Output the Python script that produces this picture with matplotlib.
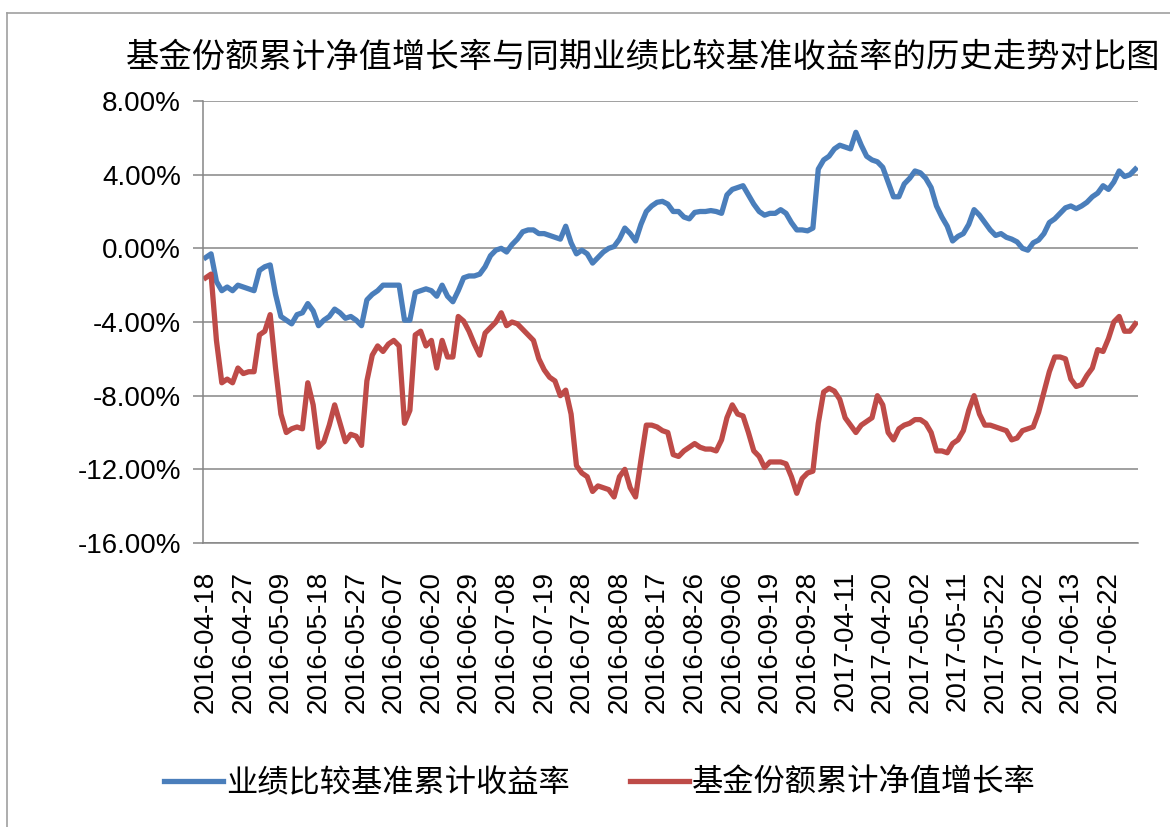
import matplotlib
matplotlib.use('Agg')
import matplotlib.pyplot as plt
from matplotlib.lines import Line2D
from matplotlib.ticker import FuncFormatter

plt.rcParams['font.family'] = ['Liberation Sans', 'Noto Sans CJK SC', 'DejaVu Sans']

title = "基金份额累计净值增长率与同期业绩比较基准收益率的历史走势对比图"
series_names = ["业绩比较基准累计收益率", "基金份额累计净值增长率"]

# one label every 7 trading days
tick_labels = ["2016-04-18", "2016-04-27", "2016-05-09", "2016-05-18", "2016-05-27",
               "2016-06-07", "2016-06-20", "2016-06-29", "2016-07-08", "2016-07-19",
               "2016-07-28", "2016-08-08", "2016-08-17", "2016-08-26", "2016-09-06",
               "2016-09-19", "2016-09-28", "2017-04-11", "2017-04-20", "2017-05-02",
               "2017-05-11", "2017-05-22", "2017-06-02", "2017-06-13", "2017-06-22"]
tick_step = 7

# benchmark cumulative return (%)
benchmark = [-0.5, -0.3, -1.8, -2.3, -2.1, -2.3, -2.0, -2.1, -2.2, -2.3,
             -1.2, -1.0, -0.9, -2.5, -3.7, -3.9, -4.1, -3.6, -3.5, -3.0,
             -3.4, -4.2, -3.9, -3.7, -3.3, -3.5, -3.8, -3.7, -3.9, -4.2,
             -2.8, -2.5, -2.3, -2.0, -2.0, -2.0, -2.0, -3.9, -3.9, -2.4,
             -2.3, -2.2, -2.3, -2.6, -2.0, -2.6, -2.9, -2.3, -1.6, -1.5,
             -1.5, -1.4, -1.0, -0.4, -0.1, 0.0, -0.2, 0.2, 0.5, 0.9,
             1.0, 1.0, 0.8, 0.8, 0.7, 0.6, 0.5, 1.2, 0.3, -0.3,
             -0.1, -0.3, -0.8, -0.5, -0.2, 0.0, 0.1, 0.5, 1.1, 0.8,
             0.4, 1.3, 2.0, 2.3, 2.5, 2.55, 2.4, 2.0, 2.0, 1.7,
             1.6, 1.95, 2.0, 2.0, 2.05, 2.0, 1.9, 2.9, 3.2, 3.3,
             3.4, 2.9, 2.4, 2.0, 1.8, 1.9, 1.9, 2.1, 1.9, 1.4,
             1.0, 1.0, 0.95, 1.1, 4.3, 4.8, 5.0, 5.4, 5.6, 5.5,
             5.4, 6.3, 5.6, 5.0, 4.8, 4.7, 4.4, 3.6, 2.8, 2.8,
             3.5, 3.8, 4.2, 4.1, 3.8, 3.3, 2.3, 1.7, 1.2, 0.4,
             0.65, 0.8, 1.3, 2.1, 1.8, 1.4, 1.0, 0.7, 0.8, 0.6,
             0.5, 0.35, 0.0, -0.1, 0.3, 0.45, 0.8, 1.4, 1.6, 1.9,
             2.2, 2.3, 2.15, 2.3, 2.5, 2.8, 3.0, 3.4, 3.2, 3.6,
             4.2, 3.9, 4.0, 4.3]

# fund NAV cumulative growth (%)
fund_nav = [-1.6, -1.4, -5.0, -7.3, -7.1, -7.3, -6.5, -6.8, -6.7, -6.7,
            -4.7, -4.5, -3.6, -6.5, -9.0, -10.0, -9.8, -9.7, -9.8, -7.3,
            -8.5, -10.8, -10.5, -9.6, -8.5, -9.5, -10.5, -10.1, -10.2, -10.7,
            -7.2, -5.8, -5.3, -5.6, -5.2, -5.0, -5.3, -9.5, -8.8, -4.7,
            -4.5, -5.3, -5.0, -6.5, -5.0, -5.9, -5.9, -3.7, -3.95, -4.5,
            -5.2, -5.8, -4.6, -4.3, -4.0, -3.5, -4.2, -4.0, -4.1, -4.4,
            -4.7, -5.0, -6.0, -6.6, -7.0, -7.2, -8.0, -7.7, -9.0, -11.8,
            -12.2, -12.4, -13.2, -12.9, -13.0, -13.1, -13.5, -12.4, -12.0, -13.0,
            -13.5, -11.5, -9.6, -9.6, -9.7, -9.9, -10.0, -11.2, -11.3, -11.0,
            -10.8, -10.6, -10.8, -10.9, -10.9, -11.0, -10.4, -9.2, -8.5, -9.0,
            -9.1, -10.0, -11.0, -11.3, -11.9, -11.6, -11.6, -11.6, -11.7, -12.4,
            -13.3, -12.5, -12.2, -12.1, -9.5, -7.8, -7.6, -7.75, -8.2, -9.2,
            -9.6, -10.0, -9.6, -9.4, -9.2, -8.0, -8.5, -10.0, -10.4, -9.8,
            -9.6, -9.5, -9.3, -9.3, -9.5, -10.0, -11.0, -11.0, -11.1, -10.6,
            -10.4, -9.9, -8.8, -8.0, -9.0, -9.6, -9.6, -9.7, -9.8, -9.9,
            -10.4, -10.3, -9.9, -9.8, -9.7, -8.9, -7.8, -6.7, -5.9, -5.9,
            -6.0, -7.1, -7.5, -7.4, -6.9, -6.5, -5.5, -5.6, -4.9, -4.0,
            -3.7, -4.5, -4.5, -4.1]

colors = ['#4A7EBB', '#BE4B48']

W, H = 1170, 827
fig = plt.figure(figsize=(W / 100, H / 100), dpi=100)

# chart-area frame (top and left edges visible in the screenshot)
fig.add_artist(Line2D([7 / W, 1], [1 - 12.5 / H, 1 - 12.5 / H], color='#a0a0a0', lw=1.2))
fig.add_artist(Line2D([7 / W, 7 / W], [0, 1 - 12.5 / H], color='#a0a0a0', lw=1.2))

ax = fig.add_axes([203 / W, 1 - 543 / H, (1138 - 203) / W, (543 - 101) / H])

x = list(range(len(benchmark)))
ax.plot(x, benchmark, color=colors[0], lw=3.8, solid_joinstyle='round', label=series_names[0])
ax.plot(x, fund_nav, color=colors[1], lw=3.8, solid_joinstyle='round', label=series_names[1])

ax.set_xlim(-0.5, len(benchmark) - 0.5)
ax.set_ylim(-16, 8)
ax.set_yticks(range(-16, 9, 4))
ax.yaxis.set_major_formatter(FuncFormatter(lambda v, p: '%.2f%%' % v))
ax.set_xticks(range(0, len(tick_labels) * tick_step, tick_step))
ax.set_xticklabels(tick_labels, rotation=90)

ax.grid(axis='y', color='#868686', lw=1.1)
ax.set_axisbelow(True)
for s in ['top', 'right']:
    ax.spines[s].set_visible(False)
for s in ['left', 'bottom']:
    ax.spines[s].set_color('#868686')
    ax.spines[s].set_linewidth(1.1)
ax.tick_params(axis='y', length=7, width=1.1, color='#868686', labelsize=20, pad=9)
ax.tick_params(axis='x', length=0, labelsize=20, pad=20)

fig.text(643 / W, 1 - 57 / H, title, ha='center', va='center', fontsize=24,
         family=['Noto Sans CJK SC', 'DejaVu Sans'])

fig.legend(loc='center', bbox_to_anchor=(600 / W, 1 - 783 / H), ncol=2, frameon=False,
           prop={'family': ['Noto Sans CJK SC', 'DejaVu Sans'], 'size': 22.5},
           handlelength=1.9, handletextpad=0.1, columnspacing=1.9)

fig.savefig('out.png', dpi=100)
